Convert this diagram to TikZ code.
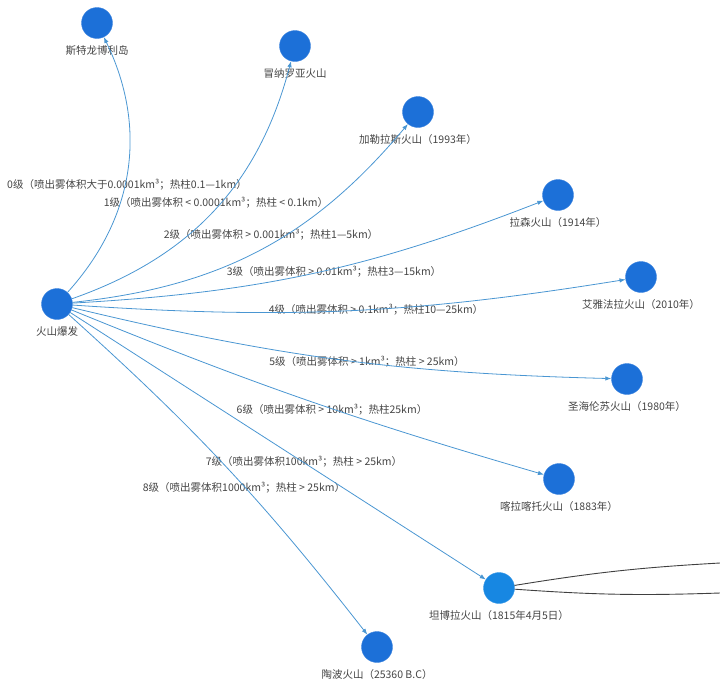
\documentclass[tikz,border=0pt]{standalone}
\usepackage{fontspec}
\setmainfont{Noto Sans CJK SC}
\usepackage{xcolor}
\definecolor{volcblue}{HTML}{1C70D8}
\definecolor{hotblue}{HTML}{1787E2}
\definecolor{linkblue}{HTML}{4A96D2}
\definecolor{textgray}{HTML}{444444}
\usepackage{tikz}
\usetikzlibrary{arrows.meta,positioning}
\tikzset{
  volc/.style    = {circle, fill=volcblue, draw=volcblue!85!white,
                    minimum size=31pt, inner sep=0pt},
  hotvolc/.style = {volc, fill=hotblue, draw=hotblue!85!white},
  vname/.style   = {font=\fontsize{10.5}{12}\selectfont, text=textgray,
                    text height=9pt, text depth=2.5pt, inner sep=1pt},
  lvl/.style     = {vname},
  link/.style    = {-{Latex[length=6pt,width=4.5pt]}, draw=linkblue,
                    line width=0.8pt},
  outlink/.style = {draw=black!75, line width=0.9pt}
}
\begin{document}
\begin{tikzpicture}[x=1pt, y=-1pt, node distance=6pt]
  \useasboundingbox (0,0) rectangle (720,699);
  % volcanoes
  \node[volc] (erupt)     at (57,304)  {};
  \node[volc] (stromboli) at (97,23)   {};
  \node[volc] (maunaloa)  at (295,46)  {};
  \node[volc] (galeras)   at (418,112) {};
  \node[volc] (lassen)    at (558,195) {};
  \node[volc] (eyja)      at (641,277) {};
  \node[volc] (helens)    at (627,379) {};
  \node[volc] (krakatoa)  at (559,479) {};
  \node[hotvolc] (tambora) at (499,588) {};
  \node[volc] (taupo)     at (377,647) {};
  % names
  \node[vname, below=of erupt]     (erupt-n)     {火山爆发};
  \node[vname, below=of stromboli] (stromboli-n) {斯特龙博利岛};
  \node[vname, below=of maunaloa]  (maunaloa-n)  {冒纳罗亚火山};
  \node[vname, below=of galeras]   (galeras-n)   {加勒拉斯火山（1993年）};
  \node[vname, below=of lassen]    (lassen-n)    {拉森火山（1914年）};
  \node[vname, below=of eyja]      (eyja-n)      {艾雅法拉火山（2010年）};
  \node[vname, below=of helens]    (helens-n)    {圣海伦苏火山（1980年）};
  \node[vname, below=of krakatoa]  (krakatoa-n)  {喀拉喀托火山（1883年）};
  \node[vname, below=of tambora]   (tambora-n)   {坦博拉火山（1815年4月5日）};
  \node[vname, below=of taupo]     (taupo-n)     {陶波火山（25360 B.C）};
  % levels
  \node[lvl] (lvl0) at (127,185) {0级（喷出雾体积大于0.0001km³；热柱0.1—1km）};
  \node[lvl] (lvl1) at (216,203) {1级（喷出雾体积 < 0.0001km³；热柱 < 0.1km）};
  \node[lvl] (lvl2) at (271,235) {2级（喷出雾体积 > 0.001km³；热柱1—5km）};
  \node[lvl] (lvl3) at (334,272) {3级（喷出雾体积 > 0.01km³；热柱3—15km）};
  \node[lvl] (lvl4) at (376,310) {4级（喷出雾体积 > 0.1km³；热柱10—25km）};
  \node[lvl] (lvl5) at (367,362) {5级（喷出雾体积 > 1km³；热柱 > 25km）};
  \node[lvl] (lvl6) at (332,410) {6级（喷出雾体积 > 10km³；热柱25km）};
  \node[lvl] (lvl7) at (304,462) {7级（喷出雾体积100km³；热柱 > 25km）};
  \node[lvl] (lvl8) at (244,488) {8级（喷出雾体积1000km³；热柱 > 25km）};
  % eruption links
  \foreach \v/\b in {stromboli/34,maunaloa/28,galeras/22,lassen/9,eyja/6.5,
                     helens/6,krakatoa/3,tambora/0,taupo/-5}
    \draw[link] (erupt) to[bend right=\b] (\v);
  % links leaving the picture
  \coordinate (exit1) at (720,563);
  \coordinate (exit2) at (720,593);
  \draw[outlink] (tambora) to[bend left=3] (exit1);
  \draw[outlink] (tambora) to[bend right=3] (exit2);
\end{tikzpicture}
\end{document}
